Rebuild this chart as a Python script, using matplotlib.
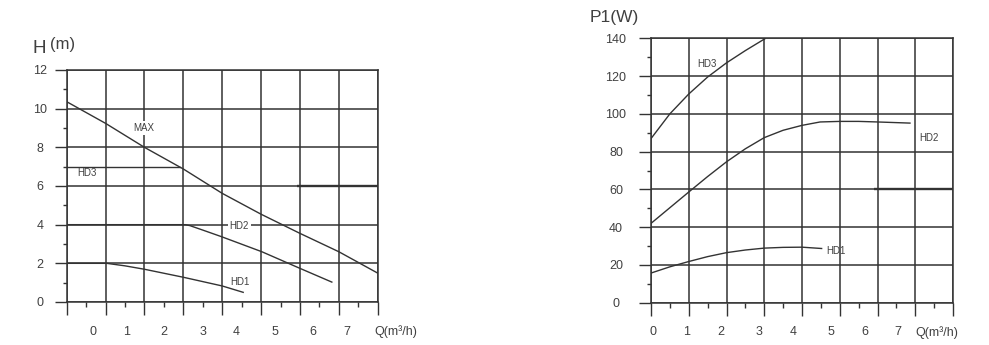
import matplotlib
matplotlib.use("Agg")
import matplotlib.pyplot as plt
import numpy as np

plt.rcParams['font.family'] = ['Liberation Sans', 'DejaVu Sans']

# head curves (left chart), x in grid units
max_q = [0, 1, 2, 3, 4, 5, 6, 7, 8.04]
max_h = [10.36, 9.24, 8.0, 6.88, 5.62, 4.54, 3.55, 2.6, 1.45]
hd3_q = [0, 2.91]
hd3_h = [7.0, 7.0]
hd2_q = [0, 3.05, 3.17, 3.5, 3.98, 5.02, 6.0, 6.82]
hd2_h = [4.0, 4.0, 3.95, 3.72, 3.38, 2.6, 1.74, 1.03]
hd1_q = [0, 1.03, 1.5, 2.01, 3.0, 4.0, 4.54]
hd1_h = [2.0, 2.0, 1.87, 1.69, 1.28, 0.83, 0.50]

# power curves (right chart)
p3_q = [0, 0.5, 1.0, 1.5, 2.0, 2.5, 3.02]
p3_w = [86.9, 100.0, 110.5, 119.5, 127.0, 133.5, 139.8]
p2_q = [0, 1.0, 1.5, 2.0, 2.5, 3.0, 3.5, 4.0, 4.48, 5.0, 5.5, 6.0, 6.86]
p2_w = [42.0, 58.6, 66.8, 74.6, 81.5, 87.4, 91.3, 93.9, 95.7, 96.0, 96.0, 95.7, 95.1]
p1_q = [0, 0.5, 1.0, 1.5, 2.0, 2.5, 3.0, 3.5, 4.0, 4.52]
p1_w = [15.7, 19.0, 21.8, 24.4, 26.5, 27.9, 28.9, 29.3, 29.4, 28.7]

x_labels = ['0', '1', '2', '3', '4', '5', '6', '7']
h_ticks = [0, 2, 4, 6, 8, 10, 12]
p_ticks = [0, 20, 40, 60, 80, 100, 120, 140]

C = '#333333'
TC = '#404040'

fig = plt.figure(figsize=(9.89, 3.45), dpi=100)
W, H = 989, 345


def make_ax(x0, x1, ytop, ybot):
    return fig.add_axes([x0 / W, 1 - ybot / H, (x1 - x0) / W, (ybot - ytop) / H])


def style(ax, ymax, ystep, ypad, ylabels):
    ax.set_xlim(0, 8)
    ax.set_ylim(0, ymax)
    ax.set_xticks(np.arange(0, 9))
    ax.set_xticks(np.arange(0.5, 8, 1), minor=True)
    ax.set_yticks(np.arange(0, ymax + 1, ystep))
    ax.set_yticks(np.arange(ystep / 2, ymax, ystep), minor=True)
    ax.set_yticklabels([str(v) for v in ylabels])
    ax.tick_params(axis='x', which='major', length=9.4, width=1, color=C, labelbottom=False)
    ax.tick_params(axis='x', which='minor', length=3.6, width=1, color=C)
    ax.tick_params(axis='y', which='major', length=8.6, width=1, color=C,
                   labelsize=9, labelcolor=TC, pad=ypad)
    ax.tick_params(axis='y', which='minor', length=2.9, width=1, color=C)
    for lab in ax.get_yticklabels():
        lab.set_horizontalalignment('center')
    ax.grid(True, which='major', color=C, lw=1.1)
    for s in ax.spines.values():
        s.set_color(C)
        s.set_linewidth(1.1)


def q_labels(ax, xs):
    for x, lab in zip(xs, x_labels):
        ax.annotate(lab, xy=(x, 0), xycoords=('data', 'axes fraction'), xytext=(0, -21.4),
                    textcoords='offset points', ha='center', va='center', fontsize=9, color=TC)


# ---- left: head ----
ax1 = make_ax(66.7, 377.7, 70, 302)
style(ax1, 12, 2, 10.8, h_ticks)
ax1.hlines(6, 5.92, 8, color=C, lw=1.7, zorder=2)
for q, h in [(max_q, max_h), (hd3_q, hd3_h), (hd2_q, hd2_h), (hd1_q, hd1_h)]:
    ax1.plot(q, h, color=C, lw=1.0, zorder=3)
ax1.text(1.97, 9.02, 'MAX', fontsize=7, color=TC, ha='center', va='center',
         bbox=dict(fc='white', ec='none', pad=1.5), zorder=4)
ax1.text(0.52, 6.66, 'HD3', fontsize=7, color=TC, ha='center', va='center', zorder=4)
ax1.text(4.44, 3.95, 'HD2', fontsize=7, color=TC, ha='center', va='center',
         bbox=dict(fc='white', ec='none', pad=1.5), zorder=4)
ax1.text(4.45, 1.05, 'HD1', fontsize=7, color=TC, ha='center', va='center', zorder=4)
q_labels(ax1, [0.67, 1.54, 2.51, 3.5, 4.37, 5.36, 6.34, 7.2])
ax1.annotate('Q(m³/h)', xy=(7.91, 0), xycoords=('data', 'axes fraction'), xytext=(0, -21.4),
             textcoords='offset points', ha='left', va='center', fontsize=9, color=TC)
fig.text(33 / W, 1 - 53 / H, 'H', fontsize=13.5, color=TC, ha='left', va='baseline')
fig.text(50 / W, 1 - 49.3 / H, '(m)', fontsize=12, color=TC, ha='left', va='baseline')

# ---- right: power ----
ax2 = make_ax(651, 953, 38.3, 302.7)
style(ax2, 140, 20, 16.6, p_ticks)
ax2.hlines(60, 5.9, 8, color=C, lw=1.7, zorder=2)
for q, p in [(p3_q, p3_w), (p2_q, p2_w), (p1_q, p1_w)]:
    ax2.plot(q, p, color=C, lw=1.0, zorder=3)
ax2.text(1.47, 126.5, 'HD3', fontsize=7, color=TC, ha='center', va='center', zorder=4)
ax2.text(7.35, 87.2, 'HD2', fontsize=7, color=TC, ha='center', va='center', zorder=4)
ax2.text(4.9, 27.6, 'HD1', fontsize=7, color=TC, ha='center', va='center', zorder=4)
q_labels(ax2, [0.06, 0.95, 1.86, 2.87, 3.77, 4.77, 5.67, 6.55])
ax2.annotate('Q(m³/h)', xy=(7.0, 0), xycoords=('data', 'axes fraction'), xytext=(0, -21.4),
             textcoords='offset points', ha='left', va='center', fontsize=9, color=TC)
fig.text(590 / W, 1 - 21.7 / H, 'P1(W)', fontsize=12.5, color=TC, ha='left', va='baseline')

fig.savefig('out.png', dpi=100)
